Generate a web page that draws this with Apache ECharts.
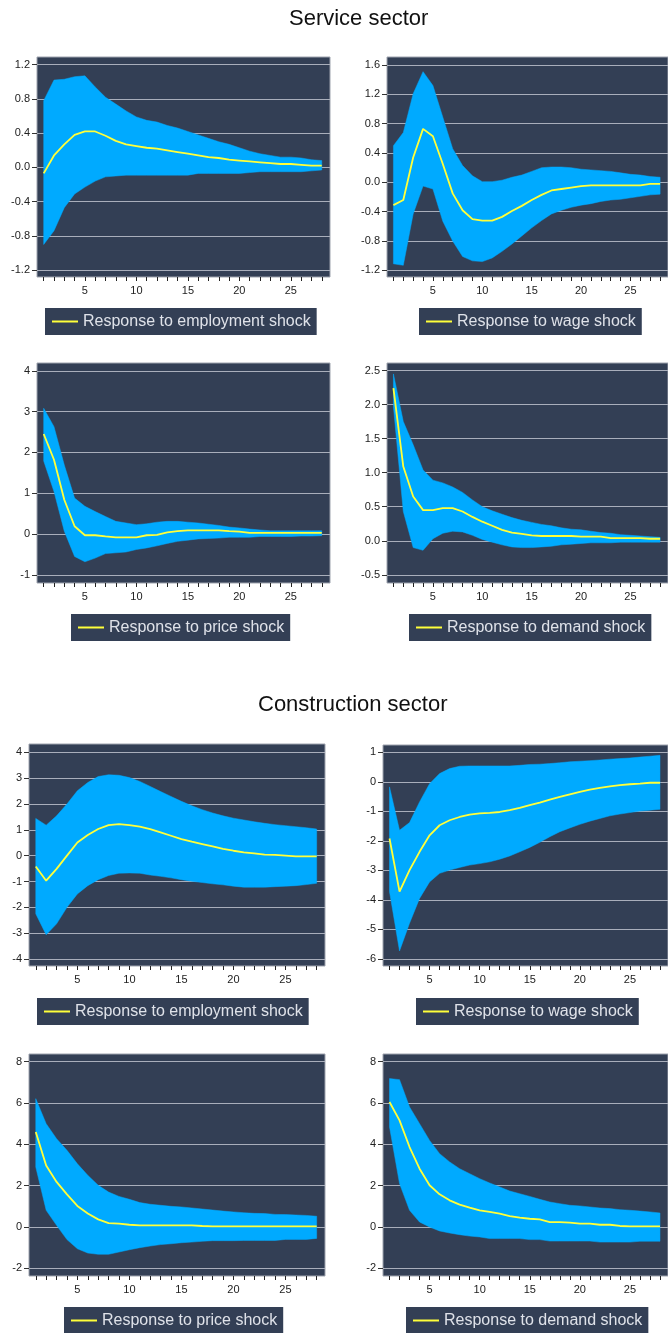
<!DOCTYPE html>
<html>
<head>
<meta charset="utf-8">
<script src="https://cdn.jsdelivr.net/npm/echarts@6/dist/echarts.min.js"></script>
<style>
  html, body { margin: 0; padding: 0; background: #ffffff; }
  #chart { width: 668px; height: 1333px; }
</style>
</head>
<body>
<div id="chart"></div>
<script>
// ---------------- DATA ----------------
const periods = [1,2,3,4,5,6,7,8,9,10,11,12,13,14,15,16,17,18,19,20,21,22,23,24,25,26,27,28];
const xTickLabels = [5, 10, 15, 20, 25];

const sectionTitles = ['Service sector', 'Construction sector'];
const panelLabels = [
  'Response to employment shock', 'Response to wage shock',
  'Response to price shock', 'Response to demand shock',
  'Response to employment shock', 'Response to wage shock',
  'Response to price shock', 'Response to demand shock'
];

// Service sector – employment shock
const svcEmpResp  = [-0.07,0.14,0.27,0.38,0.42,0.42,0.37,0.31,0.27,0.25,0.23,0.22,0.20,0.18,0.16,0.14,0.12,0.11,0.09,0.08,0.07,0.06,0.05,0.04,0.04,0.03,0.02,0.02];
const svcEmpUpper = [0.78,1.02,1.03,1.06,1.07,0.94,0.82,0.74,0.66,0.59,0.55,0.53,0.49,0.46,0.42,0.38,0.34,0.30,0.27,0.23,0.19,0.16,0.14,0.12,0.12,0.11,0.09,0.08];
const svcEmpLower = [-0.90,-0.74,-0.47,-0.31,-0.23,-0.16,-0.11,-0.10,-0.09,-0.09,-0.09,-0.09,-0.09,-0.09,-0.09,-0.07,-0.07,-0.07,-0.07,-0.07,-0.06,-0.05,-0.05,-0.05,-0.05,-0.05,-0.04,-0.03];
const svcEmpTicks = ['-1.2','-0.8','-0.4','0.0','0.4','0.8','1.2'];

// Service sector – wage shock
const svcWageResp  = [-0.31,-0.24,0.34,0.73,0.63,0.25,-0.15,-0.38,-0.50,-0.52,-0.52,-0.47,-0.39,-0.32,-0.24,-0.17,-0.11,-0.09,-0.07,-0.05,-0.04,-0.04,-0.04,-0.04,-0.04,-0.04,-0.02,-0.02];
const svcWageUpper = [0.50,0.68,1.21,1.51,1.32,0.89,0.46,0.23,0.09,0.01,0.01,0.03,0.07,0.10,0.15,0.20,0.21,0.21,0.20,0.18,0.17,0.16,0.15,0.13,0.11,0.10,0.08,0.07];
const svcWageLower = [-1.11,-1.13,-0.43,-0.05,-0.09,-0.53,-0.80,-1.01,-1.07,-1.08,-1.03,-0.94,-0.84,-0.73,-0.62,-0.52,-0.43,-0.38,-0.34,-0.31,-0.29,-0.26,-0.24,-0.23,-0.21,-0.19,-0.17,-0.16];
const svcWageTicks = ['-1.2','-0.8','-0.4','0.0','0.4','0.8','1.2','1.6'];

// Service sector – price shock
const svcPriceResp  = [2.45,1.82,0.84,0.19,-0.03,-0.03,-0.06,-0.08,-0.08,-0.08,-0.03,-0.02,0.04,0.07,0.09,0.09,0.09,0.09,0.07,0.06,0.03,0.03,0.03,0.03,0.03,0.03,0.03,0.03];
const svcPriceUpper = [3.08,2.63,1.69,0.88,0.68,0.55,0.43,0.31,0.27,0.23,0.25,0.29,0.31,0.31,0.29,0.27,0.24,0.21,0.17,0.15,0.12,0.10,0.08,0.08,0.08,0.08,0.08,0.08];
const svcPriceLower = [1.79,1.04,0.07,-0.55,-0.68,-0.59,-0.48,-0.46,-0.44,-0.38,-0.34,-0.29,-0.23,-0.18,-0.15,-0.12,-0.11,-0.10,-0.08,-0.08,-0.08,-0.06,-0.06,-0.06,-0.06,-0.05,-0.05,-0.04];
const svcPriceTicks = ['-1','0','1','2','3','4'];

// Service sector – demand shock
const svcDemResp  = [2.24,1.09,0.65,0.45,0.45,0.48,0.48,0.43,0.35,0.28,0.22,0.16,0.12,0.10,0.08,0.07,0.07,0.07,0.07,0.06,0.06,0.06,0.04,0.04,0.04,0.04,0.03,0.03];
const svcDemUpper = [2.45,1.75,1.41,1.04,0.89,0.85,0.79,0.71,0.60,0.50,0.44,0.39,0.34,0.30,0.27,0.24,0.22,0.19,0.17,0.16,0.14,0.12,0.11,0.09,0.08,0.07,0.06,0.05];
const svcDemLower = [1.97,0.43,-0.10,-0.14,0.03,0.11,0.14,0.13,0.08,0.02,-0.02,-0.06,-0.09,-0.10,-0.10,-0.09,-0.08,-0.06,-0.05,-0.04,-0.03,-0.03,-0.03,-0.02,-0.02,-0.02,-0.02,-0.02];
const svcDemTicks = ['-0.5','0.0','0.5','1.0','1.5','2.0','2.5'];

// Construction sector – employment shock
const conEmpResp  = [-0.42,-0.97,-0.51,0.00,0.51,0.80,1.03,1.18,1.22,1.18,1.12,1.03,0.90,0.77,0.64,0.54,0.45,0.36,0.26,0.19,0.13,0.09,0.04,0.03,0.00,-0.03,-0.03,-0.03];
const conEmpUpper = [1.44,1.18,1.54,2.00,2.51,2.83,3.06,3.13,3.11,3.02,2.87,2.68,2.48,2.29,2.10,1.93,1.78,1.65,1.54,1.45,1.38,1.31,1.25,1.20,1.16,1.12,1.08,1.03];
const conEmpLower = [-2.25,-3.06,-2.64,-2.00,-1.48,-1.16,-0.93,-0.77,-0.68,-0.67,-0.68,-0.75,-0.80,-0.86,-0.93,-0.99,-1.04,-1.09,-1.13,-1.18,-1.22,-1.22,-1.22,-1.20,-1.18,-1.16,-1.12,-1.07];
const conEmpTicks = ['-4','-3','-2','-1','0','1','2','3','4'];

// Construction sector – wage shock
const conWageResp  = [-1.92,-3.72,-2.99,-2.37,-1.81,-1.47,-1.30,-1.19,-1.11,-1.07,-1.05,-1.02,-0.96,-0.88,-0.79,-0.70,-0.60,-0.51,-0.42,-0.34,-0.26,-0.20,-0.15,-0.11,-0.08,-0.06,-0.03,-0.03];
const conWageUpper = [-0.17,-1.64,-1.38,-0.68,-0.06,0.28,0.45,0.53,0.54,0.54,0.54,0.54,0.54,0.56,0.59,0.60,0.62,0.65,0.68,0.70,0.72,0.74,0.77,0.79,0.81,0.84,0.87,0.90];
const conWageLower = [-3.72,-5.73,-4.79,-3.95,-3.39,-3.10,-2.99,-2.90,-2.82,-2.77,-2.71,-2.62,-2.51,-2.37,-2.22,-2.05,-1.86,-1.69,-1.56,-1.44,-1.33,-1.24,-1.15,-1.09,-1.04,-0.99,-0.96,-0.93];
const conWageTicks = ['-6','-5','-4','-3','-2','-1','0','1'];

// Construction sector – price shock
const conPriceResp  = [4.60,2.98,2.18,1.58,1.02,0.65,0.37,0.19,0.16,0.11,0.08,0.08,0.08,0.08,0.08,0.08,0.05,0.03,0.03,0.03,0.03,0.03,0.03,0.03,0.03,0.03,0.03,0.03];
const conPriceUpper = [6.21,5.00,4.27,3.71,3.06,2.50,2.02,1.69,1.48,1.34,1.18,1.10,1.05,1.00,0.97,0.92,0.87,0.82,0.77,0.73,0.69,0.66,0.65,0.61,0.60,0.58,0.56,0.52];
const conPriceLower = [2.90,0.81,0.08,-0.61,-1.05,-1.26,-1.32,-1.32,-1.21,-1.10,-1.00,-0.92,-0.85,-0.81,-0.76,-0.73,-0.69,-0.66,-0.66,-0.66,-0.65,-0.65,-0.65,-0.65,-0.60,-0.60,-0.60,-0.55];
const conPriceTicks = ['-2','0','2','4','6','8'];

// Construction sector – demand shock
const conDemResp  = [6.05,5.16,3.87,2.82,2.02,1.58,1.29,1.08,0.94,0.81,0.73,0.65,0.53,0.45,0.40,0.37,0.24,0.24,0.21,0.16,0.16,0.11,0.11,0.05,0.03,0.03,0.03,0.03];
const conDemUpper = [7.18,7.13,5.81,5.00,4.19,3.55,3.15,2.82,2.58,2.34,2.13,1.94,1.74,1.61,1.48,1.34,1.21,1.13,1.05,1.02,0.97,0.92,0.89,0.84,0.81,0.77,0.73,0.68];
const conDemLower = [4.84,2.10,0.81,0.24,0.00,-0.19,-0.29,-0.37,-0.44,-0.48,-0.56,-0.56,-0.56,-0.56,-0.61,-0.61,-0.68,-0.68,-0.68,-0.68,-0.68,-0.73,-0.73,-0.73,-0.73,-0.69,-0.69,-0.69];
const conDemTicks = ['-2','0','2','4','6','8'];

// ---------------- LAYOUT / STYLE ----------------
const FONT = 'Liberation Sans, Arial, Helvetica, sans-serif';
const PLOT_BG = '#333f55';
const BAND = '#00aaff';
const LINE = '#ffff3a';
const GRIDLINE = '#a9aebb';

const panels = [
  { resp: svcEmpResp,   up: svcEmpUpper,   lo: svcEmpLower,   ticks: svcEmpTicks,   grid: [37, 57, 293, 220],   y: [-1.28, 1.29], leg: [45, 308] },
  { resp: svcWageResp,  up: svcWageUpper,  lo: svcWageLower,  ticks: svcWageTicks,  grid: [387, 57, 293, 220],  y: [-1.29, 1.71], leg: [419, 308] },
  { resp: svcPriceResp, up: svcPriceUpper, lo: svcPriceLower, ticks: svcPriceTicks, grid: [37, 363, 293, 220],  y: [-1.20, 4.19], leg: [71, 614] },
  { resp: svcDemResp,   up: svcDemUpper,   lo: svcDemLower,   ticks: svcDemTicks,   grid: [387, 363, 293, 220], y: [-0.62, 2.61], leg: [409, 614] },
  { resp: conEmpResp,   up: conEmpUpper,   lo: conEmpLower,   ticks: conEmpTicks,   grid: [29, 744, 296, 222],  y: [-4.27, 4.32], leg: [37, 998] },
  { resp: conWageResp,  up: conWageUpper,  lo: conWageLower,  ticks: conWageTicks,  grid: [383, 745, 296, 221], y: [-6.24, 1.25], leg: [416, 998] },
  { resp: conPriceResp, up: conPriceUpper, lo: conPriceLower, ticks: conPriceTicks, grid: [29, 1054, 296, 222], y: [-2.37, 8.37], leg: [64, 1307] },
  { resp: conDemResp,   up: conDemUpper,   lo: conDemLower,   ticks: conDemTicks,   grid: [383, 1054, 296, 222], y: [-2.37, 8.37], leg: [406, 1307] }
];

const grids = [], xAxes = [], yAxes = [], series = [], legends = [];

panels.forEach((p, i) => {
  const tickVals = p.ticks.map(Number);
  grids.push({
    left: p.grid[0], top: p.grid[1], width: p.grid[2], height: p.grid[3],
    show: true, backgroundColor: PLOT_BG, borderColor: '#9ea3ae', borderWidth: 1,
    containLabel: false
  });
  xAxes.push({
    type: 'value', gridIndex: i, min: 0.35, max: 28.8, position: 'bottom',
    axisLine: { show: false, onZero: false },
    splitLine: { show: false },
    axisTick: { show: true, customValues: periods, length: 4, inside: false,
                lineStyle: { color: '#222', width: 1 } },
    axisLabel: { show: true, customValues: xTickLabels, margin: 8,
                 fontSize: 11, color: '#222', fontFamily: FONT }
  });
  yAxes.push({
    type: 'value', gridIndex: i, min: p.y[0], max: p.y[1],
    axisLine: { show: false, onZero: false },
    splitLine: { show: true, lineStyle: { color: GRIDLINE, width: 1 } },
    axisTick: { show: true, customValues: tickVals, length: 5,
                lineStyle: { color: '#333', width: 1 } },
    axisLabel: { show: true, customValues: tickVals, margin: 7,
                 fontSize: 11, color: '#222', fontFamily: FONT,
                 formatter: (v) => {
                   const k = tickVals.findIndex(t => Math.abs(t - v) < 1e-9);
                   return k >= 0 ? p.ticks[k] : '';
                 } }
  });
  const up = p.up, lo = p.lo;
  series.push({
    type: 'custom', xAxisIndex: i, yAxisIndex: i, silent: true, clip: true,
    data: periods.map((x, k) => [x, lo[k], up[k]]),
    encode: { x: 0, y: [1, 2] },
    renderItem: (params, api) => {
      if (params.dataIndex !== 0) return null;
      const pts = [];
      for (let k = 0; k < periods.length; k++) pts.push(api.coord([periods[k], up[k]]));
      for (let k = periods.length - 1; k >= 0; k--) pts.push(api.coord([periods[k], lo[k]]));
      return { type: 'polygon', shape: { points: pts }, style: { fill: BAND, stroke: BAND, lineWidth: 0.5 } };
    },
    z: 2
  });
  series.push({
    type: 'line', name: panelLabels[i], xAxisIndex: i, yAxisIndex: i,
    data: periods.map((x, k) => [x, p.resp[k]]),
    symbol: 'none', showSymbol: false, silent: true,
    lineStyle: { color: LINE, width: 1.8 }, itemStyle: { color: LINE },
    z: 3
  });
  legends.push({
    left: p.leg[0], top: p.leg[1], orient: 'horizontal',
    data: [{ name: panelLabels[i], icon: 'rect' }], selectedMode: false,
    backgroundColor: PLOT_BG, padding: [5, 6, 5, 7],
    itemWidth: 26, itemHeight: 2,
    itemStyle: { color: LINE, borderWidth: 0 },
    textStyle: { color: '#dfe2e9', fontSize: 16, fontFamily: FONT, lineHeight: 17 }
  });
});

const option = {
  animation: false,
  backgroundColor: '#ffffff',
  title: [
    { text: sectionTitles[0], left: 289, top: 8, padding: 0,
      textStyle: { fontSize: 22, fontWeight: 'normal', color: '#111', fontFamily: FONT } },
    { text: sectionTitles[1], left: 258, top: 694, padding: 0,
      textStyle: { fontSize: 22, fontWeight: 'normal', color: '#111', fontFamily: FONT } }
  ],
  legend: legends,
  grid: grids,
  xAxis: xAxes,
  yAxis: yAxes,
  series: series
};

const chart = echarts.init(document.getElementById('chart'), null, { renderer: 'canvas' });
chart.setOption(option);
</script>
</body>
</html>
